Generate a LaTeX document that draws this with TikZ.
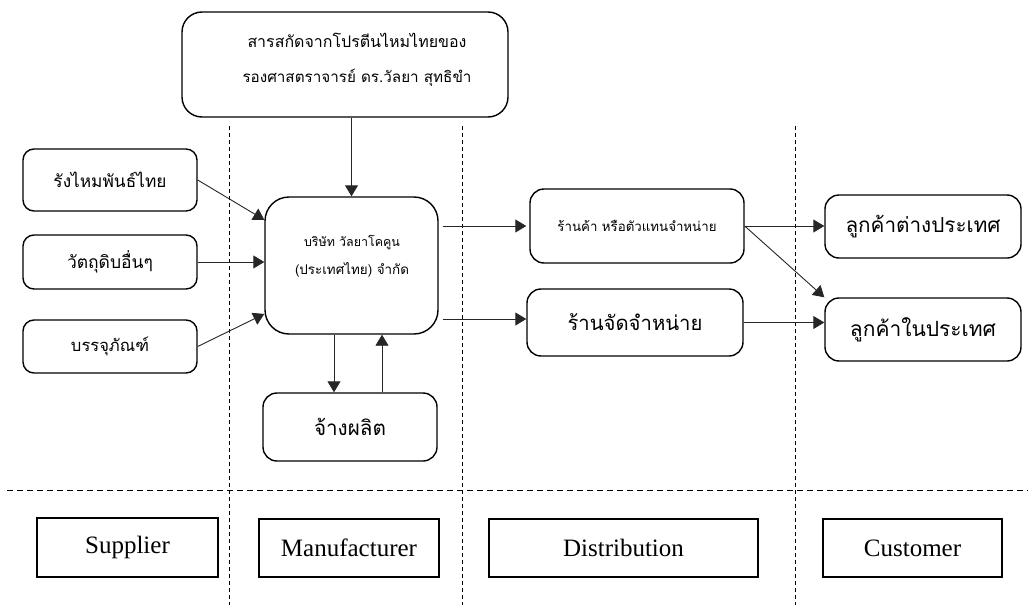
\documentclass[tikz,border=0pt]{standalone}
\usepackage{fontspec}
\usepackage{graphicx}
\newfontfamily\thai[Script=Thai]{Loma}
\newfontfamily\tnr{Liberation Serif}
\usetikzlibrary{arrows.meta,calc}
\newcommand\tw[2]{\resizebox{#1pt}{!}{#2}}
\tikzset{
  rbox/.style={draw=black, line width=1.4pt, rounded corners=11pt, fill=white, inner sep=0pt},
  bigbox/.style={rbox, rounded corners=24pt},
  lbox/.style={draw=black, line width=1.5pt, inner sep=0pt, fill=white},
  txt/.style={inner sep=0pt, align=center},
  arr/.style={-{Triangle[length=11pt,width=13pt]}, line width=0.9pt, draw=black!85},
  vdash/.style={line width=0.8pt, dash pattern=on 4pt off 3pt},
  hdash/.style={line width=0.8pt, dash pattern=on 6pt off 4pt},
}
\begin{document}
\begin{tikzpicture}[x=1pt,y=-1pt]
\useasboundingbox (0,0) rectangle (1028,605);
\fill[white] (0,0) rectangle (1028,605);

% dashed guide lines
\draw[vdash] (229,126) -- (229,605);
\draw[vdash] (462,126) -- (462,605);
\draw[vdash] (795,126) -- (795,605);
\draw[hdash] (7,490) -- (1028,490);

% top box
\node[bigbox, rounded corners=20pt, minimum width=326pt, minimum height=105pt] (top) at (345,64.5) {};
\node[txt, font=\fontsize{20}{35}\selectfont] (toptext) at (357,60) {\tw{219}{\thai สารสกัดจากโปรตีนไหมไทยของ}\\\tw{229}{\thai รองศาสตราจารย์ ดร.วัลยา สุทธิขำ}};

% company
\node[bigbox, minimum width=173pt, minimum height=137pt] (company) at (351.5,265.5) {};
\node[txt, font=\fontsize{20}{28}\selectfont] (comptext) at (352,256) {\tw{96}{\thai บริษัท วัลยาโคคูน}\\\tw{114}{\thai (ประเทศไทย) จำกัด}};

% suppliers
\node[rbox, minimum width=174pt, minimum height=62pt] (s1) at (110,180) {\tw{113}{\thai รังไหมพันธ์ไทย}};
\node[rbox, minimum width=174pt, minimum height=54pt] (s2) at (110,262) {\tw{86}{\thai วัตถุดิบอื่นๆ}};
\node[rbox, minimum width=174pt, minimum height=53pt] (s3) at (110,346.5) {\tw{78}{\thai บรรจุภัณฑ์}};

% hire
\node[rbox, rounded corners=14pt, minimum width=174pt, minimum height=68pt] (hire) at (350,427) {\tw{72}{\thai จ้างผลิต}};

% distribution
\node[rbox, rounded corners=14pt, minimum width=214pt, minimum height=74pt] (shop1) at (637,226) {\tw{159}{\thai ร้านค้า หรือตัวแทนจำหน่าย}};
\node[rbox, rounded corners=14pt, minimum width=216pt, minimum height=67pt] (shop2) at (635,322.5) {\tw{135}{\thai ร้านจัดจำหน่าย}};

% customers
\node[rbox, rounded corners=14pt, minimum width=196pt, minimum height=63pt] (c1) at (923,226.5) {\tw{155}{\thai ลูกค้าต่างประเทศ}};
\node[rbox, rounded corners=14pt, minimum width=196pt, minimum height=63pt] (c2) at (923,329.5) {\tw{146}{\thai ลูกค้าในประเทศ}};

% labels
\node[lbox, minimum width=181pt, minimum height=59pt] (lsup) at (127.5,547.5) {\fontsize{25}{30}\tnr Supplier};
\node[lbox, minimum width=180pt, minimum height=58pt] (lman) at (349,548) {\fontsize{25}{30}\tnr Manufacturer};
\node[lbox, minimum width=269pt, minimum height=58pt] (ldis) at (623.5,548) {\fontsize{25}{30}\tnr Distribution};
\node[lbox, minimum width=179pt, minimum height=58pt] (lcus) at (912.5,548) {\fontsize{25}{30}\tnr Customer};

% connectors
\draw[arr] (top.south -| company.north) -- (company.north);
\draw[arr] (s1.east) -- ($(company.north west)!0.17!(company.south west)$);
\draw[arr] (s2.east) -- (s2.east -| company.west);
\draw[arr] (s3.east) -- ($(company.north west)!0.85!(company.south west)$);
\coordinate (dn) at ($(hire.north)+(-16,0)$);
\coordinate (up) at ($(hire.north)+(32,0)$);
\draw[arr] (dn |- company.south) -- (dn);
\draw[arr] (up) -- (up |- company.south);
\coordinate (p2) at ($(shop2.west)+(0,-3.5)$);
\draw[arr, shorten <=4pt, shorten >=3pt] (company.east |- shop1.west) -- (shop1.west);
\draw[arr, shorten <=4pt] (p2 -| company.east) -- (p2);
\draw[arr] (shop1.east) -- (shop1.east -| c1.west);
\draw[arr] (shop1.east) -- (c2.north west);
\draw[arr] (shop2.east) -- (shop2.east -| c2.west);
\end{tikzpicture}
\end{document}
